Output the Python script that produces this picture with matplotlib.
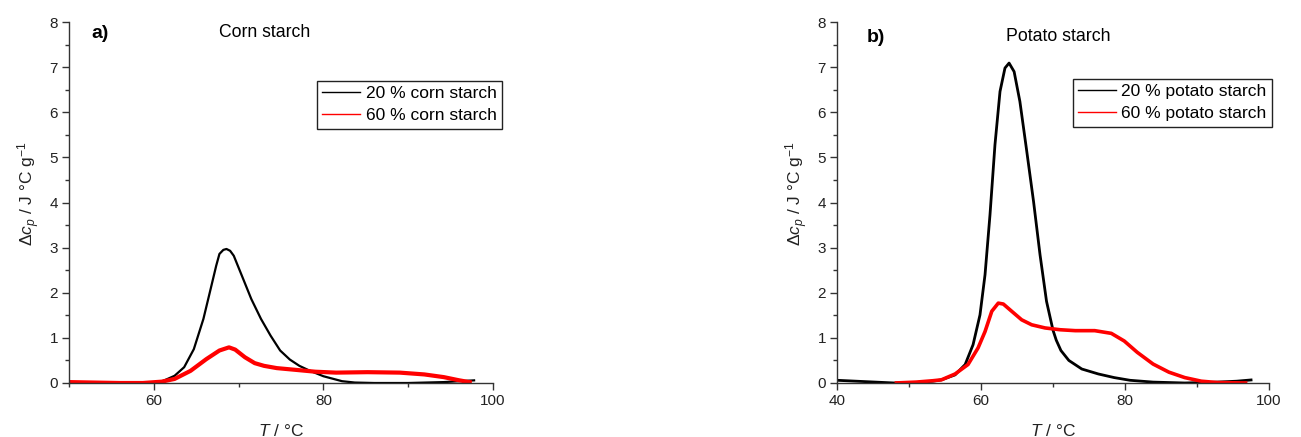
import matplotlib
matplotlib.use("Agg")
import matplotlib.pyplot as plt
from matplotlib.lines import Line2D
from matplotlib.ticker import MultipleLocator

plt.rcParams['font.family'] = ['Liberation Sans', 'DejaVu Sans']
plt.rcParams['mathtext.fontset'] = 'custom'
plt.rcParams['mathtext.rm'] = 'Liberation Sans'
plt.rcParams['mathtext.it'] = 'Liberation Sans:italic'
plt.rcParams['mathtext.bf'] = 'Liberation Sans:bold'

# ---- data: corn starch ----
corn20_T = [60.5, 61.5, 62.45, 63.58, 64.72, 65.85, 66.8, 67.36, 67.74, 68.2, 68.57,
            69.0, 69.43, 70.38, 71.5, 72.64, 73.77, 74.9, 76.04, 77.17, 78.3, 80.0,
            82.2, 83.7, 86.0, 90.0, 94.2, 97.9]
corn20_cp = [0.0, 0.08, 0.16, 0.35, 0.75, 1.42, 2.16, 2.6, 2.86, 2.95, 2.97,
             2.93, 2.82, 2.38, 1.86, 1.42, 1.05, 0.72, 0.52, 0.38, 0.28, 0.15,
             0.04, 0.01, 0.0, 0.0, 0.02, 0.06]
corn60_T = [50.0, 53.0, 56.0, 58.7, 60.94, 62.45, 64.34, 66.2, 67.74, 68.87, 69.6,
            70.75, 71.9, 73.0, 74.5, 76.8, 79.06, 81.5, 85.2, 89.0, 91.9, 94.2,
            96.0, 97.5]
corn60_cp = [0.02, 0.01, 0.0, 0.0, 0.03, 0.09, 0.27, 0.53, 0.72, 0.79, 0.74,
             0.57, 0.44, 0.38, 0.33, 0.29, 0.25, 0.23, 0.24, 0.23, 0.19, 0.13,
             0.06, 0.01]

# ---- data: potato starch ----
pot20_T = [40.0, 44.0, 48.0, 51.0, 53.3, 54.5, 56.4, 57.8, 58.9, 59.86, 60.56,
           61.25, 61.94, 62.64, 63.33, 63.9, 64.6, 65.4, 66.3, 67.3, 68.2, 69.1,
           70.0, 70.45, 71.1, 72.2, 74.0, 76.3, 78.5, 80.7, 83.9, 88.3, 92.8,
           95.5, 97.7]
pot20_cp = [0.06, 0.03, 0.0, 0.01, 0.04, 0.07, 0.18, 0.41, 0.85, 1.51, 2.4,
            3.73, 5.28, 6.46, 6.98, 7.09, 6.9, 6.24, 5.2, 4.02, 2.84, 1.81,
            1.17, 0.95, 0.72, 0.5, 0.31, 0.2, 0.12, 0.06, 0.02, 0.0, 0.02,
            0.04, 0.07]
pot60_T = [48.0, 51.0, 53.3, 54.5, 56.4, 58.2, 59.6, 60.56, 61.5, 62.4, 63.1,
           64.26, 65.65, 67.04, 68.9, 71.0, 73.1, 75.8, 78.1, 79.9, 81.7, 83.9,
           86.1, 88.3, 90.6, 92.8, 97.0]
pot60_cp = [0.0, 0.02, 0.05, 0.07, 0.2, 0.41, 0.78, 1.14, 1.59, 1.77, 1.75,
            1.59, 1.4, 1.29, 1.22, 1.18, 1.16, 1.16, 1.1, 0.93, 0.68, 0.42,
            0.24, 0.12, 0.04, 0.01, 0.0]

labels_a = ['20 % corn starch', '60 % corn starch']
labels_b = ['20 % potato starch', '60 % potato starch']

W, H = 1301, 437
fig = plt.figure(figsize=(W / 100, H / 100), dpi=100)

def px_axes(x0, x1, ytop, ybot):
    return fig.add_axes([x0 / W, (H - ybot) / H, (x1 - x0) / W, (ybot - ytop) / H])

axA = px_axes(69, 493, 22, 383)
axB = px_axes(837, 1269, 22, 383)

kw = dict(solid_capstyle='butt', solid_joinstyle='round')
axA.plot(corn20_T, corn20_cp, color='black', lw=1.6, **kw)
axA.plot(corn60_T, corn60_cp, color='red', lw=3.0, **kw)
axB.plot(pot20_T, pot20_cp, color='black', lw=2.0, **kw)
axB.plot(pot60_T, pot60_cp, color='red', lw=2.6, **kw)

axA.set_xlim(50, 100)
axA.set_xticks([60, 80, 100])
axB.set_xlim(40, 100)
axB.set_xticks([40, 60, 80, 100])

axc = '#333333'
for ax in (axA, axB):
    ax.set_ylim(0, 8)
    ax.yaxis.set_major_locator(MultipleLocator(1))
    ax.yaxis.set_minor_locator(MultipleLocator(0.5))
    ax.xaxis.set_minor_locator(MultipleLocator(10))
    for s in ('top', 'right'):
        ax.spines[s].set_visible(False)
    for s in ('left', 'bottom'):
        ax.spines[s].set_color(axc)
        ax.spines[s].set_linewidth(1.0)
    ax.tick_params(which='major', direction='out', length=5, width=1.0, color=axc,
                   labelsize=11, labelcolor='#222222', pad=3)
    ax.tick_params(which='minor', direction='out', length=3, width=1.0, color=axc)
    ax.set_xlabel(r'$T$ / °C', fontsize=12.5, color='#222222', labelpad=11)
    ax.set_ylabel(r'Δ$c_p$ / J °C g$^{-1}$', fontsize=12.5, color='#222222',
                  labelpad=5.5, y=0.526)

axA.text(0.073, 0.967, 'a)', transform=axA.transAxes, ha='center', va='center',
         fontsize=14, fontweight='bold')
axA.text(0.462, 0.97, 'Corn starch', transform=axA.transAxes, ha='center', va='center',
         fontsize=12.7)
axB.text(0.09, 0.958, 'b)', transform=axB.transAxes, ha='center', va='center',
         fontsize=14, fontweight='bold')
axB.text(0.512, 0.961, 'Potato starch', transform=axB.transAxes, ha='center', va='center',
         fontsize=12.8)

def add_legend(ax, labels, anchor):
    handles = [Line2D([], [], color='black', lw=1.0), Line2D([], [], color='red', lw=1.0)]
    leg = ax.legend(handles, labels, loc='upper left', bbox_to_anchor=anchor,
                    fontsize=12.5, frameon=True, fancybox=False, framealpha=1,
                    edgecolor='#222222', handlelength=2.2, handletextpad=0.3,
                    handleheight=0.7, labelspacing=0.4, borderpad=0.3,
                    borderaxespad=0.0)
    leg.get_frame().set_linewidth(1.0)
    return leg

add_legend(axA, labels_a, (0.585, 0.837))
add_legend(axB, labels_b, (0.546, 0.842))

fig.savefig('out.png', dpi=100)
